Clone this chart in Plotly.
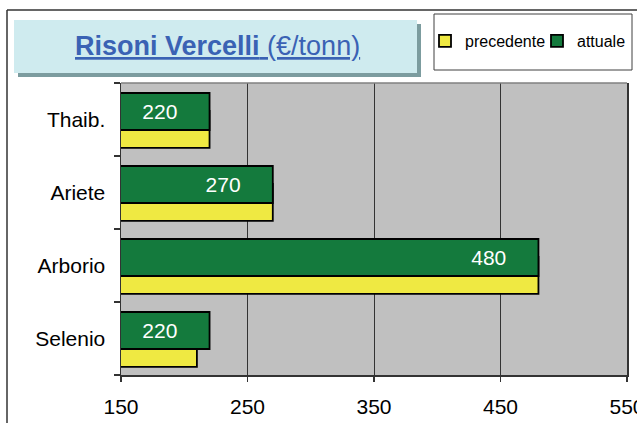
import plotly.graph_objects as go

# ---- data ----
categories = ["Thaib.", "Ariete", "Arborio", "Selenio"]
precedente = [220, 270, 480, 210]
attuale = [220, 270, 480, 220]
x_ticks = [150, 250, 350, 450, 550]
title_main = "Risoni Vercelli"
title_unit = "(€/tonn)"

W, H = 637, 423
PL, PR, PT, PB = 121, 627, 83, 375          # plot area in page pixels
L, R, T, B = PL, W - PR, PT, H - PB
PW, PH = W - L - R, H - T - B


def px(x):
    return (x - L) / PW


def py(y):
    return 1 - (y - T) / PH


FONT = "Liberation Sans, Arial, sans-serif"
GREEN = "#147A3D"
YELLOW = "#EFE942"

fig = go.Figure()
fig.add_trace(go.Bar(
    name="precedente", y=categories, x=precedente, orientation="h",
    width=0.507, offset=-0.39,
    marker=dict(color=YELLOW, line=dict(color="black", width=1.8)),
    hoverinfo="skip",
))
fig.add_trace(go.Bar(
    name="attuale", y=categories, x=attuale, orientation="h",
    width=0.507, offset=-0.144,
    marker=dict(color=GREEN, line=dict(color="black", width=1.8)),
    text=attuale, texttemplate="%{x}" + "\u00a0" * 5,
    textposition="inside", insidetextanchor="end",
    textfont=dict(color="white", size=21, family=FONT),
    hoverinfo="skip",
))

shapes = [
    # outer frame
    dict(type="line", xref="paper", yref="paper", x0=px(7), x1=px(660), y0=py(10), y1=py(10),
         line=dict(color="#333333", width=1.5)),
    dict(type="line", xref="paper", yref="paper", x0=px(7), x1=px(7), y0=py(10), y1=py(460),
         line=dict(color="#333333", width=1.5)),
    # title box shadow and box
    dict(type="rect", xref="paper", yref="paper", x0=px(18), x1=px(421), y0=py(24), y1=py(77),
         fillcolor="#7C9C9F", line=dict(width=0), layer="below"),
    dict(type="rect", xref="paper", yref="paper", x0=px(14), x1=px(417), y0=py(20), y1=py(73),
         fillcolor="#CFEBEF", line=dict(width=0), layer="below"),
    # legend box
    dict(type="rect", xref="paper", yref="paper", x0=px(434), x1=px(632), y0=py(14), y1=py(70),
         fillcolor="white", line=dict(color="#404040", width=1), layer="below"),
    # top border of plot area
    dict(type="line", xref="paper", yref="paper", x0=0, x1=1, y0=1, y1=1,
         line=dict(color="#808080", width=1.5)),
]

fig.update_layout(
    width=W, height=H,
    margin=dict(l=L, r=R, t=T, b=B, pad=0, autoexpand=False),
    paper_bgcolor="white", plot_bgcolor="#C0C0C0",
    barmode="overlay",
    font=dict(family=FONT, size=21, color="black"),
    shapes=shapes,
    showlegend=True,
    legend=dict(
        orientation="h", x=px(425), xanchor="left", y=py(41), yanchor="middle",
        bgcolor="rgba(0,0,0,0)", borderwidth=0,
        font=dict(family=FONT, size=16, color="black"),
        traceorder="normal", entrywidth=67, entrywidthmode="pixels",
    ),
    annotations=[dict(
        text="<u><b>" + title_main + "</b> " + title_unit + "</u>",
        xref="paper", yref="paper", x=px(217), y=py(46),
        xanchor="center", yanchor="middle", showarrow=False,
        font=dict(family=FONT, size=27, color="#3A62B4"),
    )],
    xaxis=dict(
        range=[150, 550], tickvals=x_ticks, ticktext=[str(v) for v in x_ticks],
        showgrid=True, gridcolor="#333333", gridwidth=1,
        showline=True, linecolor="#333333", linewidth=1.5,
        ticks="outside", ticklen=5, tickcolor="#333333", tickwidth=1.5,
        tickfont=dict(size=21), ticklabelstandoff=7, ticklabeloverflow="allow",
        zeroline=False, fixedrange=True, automargin=False,
    ),
    yaxis=dict(
        categoryorder="array", categoryarray=categories[::-1],
        range=[-0.5, 3.5], tickson="boundaries",
        showgrid=False, zeroline=False,
        showline=True, mirror=True, linecolor="#333333", linewidth=1.5,
        ticks="outside", ticklen=6, tickcolor="#333333", tickwidth=1.5,
        tickfont=dict(size=21), ticklabelstandoff=10, fixedrange=True,
        automargin=False,
    ),
)

fig.write_html(
    "out.html",
    config={"displayModeBar": False, "staticPlot": True},
    post_script="document.body.style.margin='0';"
                "document.documentElement.style.overflow='hidden';",
)
